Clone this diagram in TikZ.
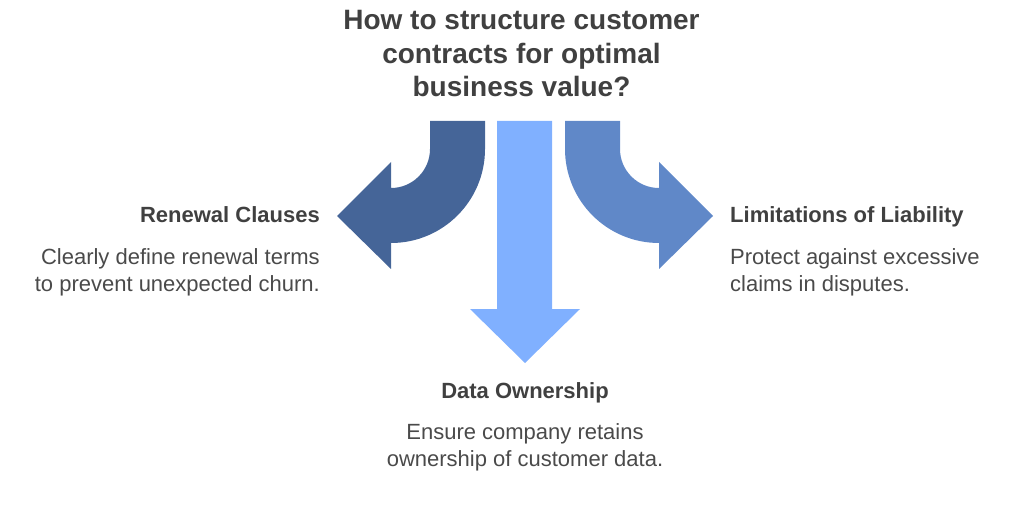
\documentclass[tikz,border=0pt]{standalone}
\usepackage{fontspec}
\setmainfont{Liberation Sans}

\definecolor{flechaosc}{HTML}{456598}
\definecolor{flechaclara}{HTML}{80B0FF}
\definecolor{flechamed}{HTML}{6088C8}
\definecolor{textotit}{HTML}{404040}
\definecolor{textocue}{HTML}{4A4A4A}

\tikzset{
	titulo/.style={font=\fontsize{28}{33.5}\selectfont\bfseries, text=textotit, align=center, inner sep=0pt},
	encabezado/.style={font=\fontsize{22}{26}\selectfont\bfseries, text=textotit, inner sep=0pt},
	cuerpo/.style={font=\fontsize{22}{26.5}\selectfont, text=textocue, inner sep=0pt}
}

\begin{document}
\begin{tikzpicture}[x=1pt, y=-1pt]
\useasboundingbox (0,0) rectangle (1024,526);

% Titulo
	\node[titulo, anchor=base] (titulo) at (521.5,97)
		{How to structure customer\\contracts for optimal\\business value?};

% Flechas laterales (la derecha es la izquierda reflejada)
	\foreach \s/\c in {1/flechaosc, -1/flechamed}{
		\begin{scope}[xshift={(1-\s)*525pt}, xscale=\s]
			\fill[\c] (430,121) -- (430,149) arc[start angle=0, end angle=90, radius=39]
				-- (391,162) -- (337,216) -- (391,269) -- (391,243)
				arc[start angle=90, end angle=0, radius=94] -- (485,121) -- cycle;
		\end{scope}
	}

% Flecha central
	\fill[flechaclara] (497,121) -- (497,309) -- (470,309) -- (525,363)
		-- (580,309) -- (552,309) -- (552,121) -- cycle;

% Textos
	\node[encabezado, anchor=base east] (renov) at (320,223) {Renewal Clauses};
	\node[cuerpo, anchor=base east, align=right] (renovtxt) at (320,291)
		{Clearly define renewal terms\\to prevent unexpected churn.};

	\node[encabezado, anchor=base west] (limit) at (730,223) {Limitations of Liability};
	\node[cuerpo, anchor=base west, align=left] (limittxt) at (730,291)
		{Protect against excessive\\claims in disputes.};

	\node[encabezado, anchor=base] (datos) at (525,398) {Data Ownership};
	\node[cuerpo, anchor=base, align=center] (datostxt) at (525,466)
		{Ensure company retains\\ownership of customer data.};
\end{tikzpicture}
\end{document}
